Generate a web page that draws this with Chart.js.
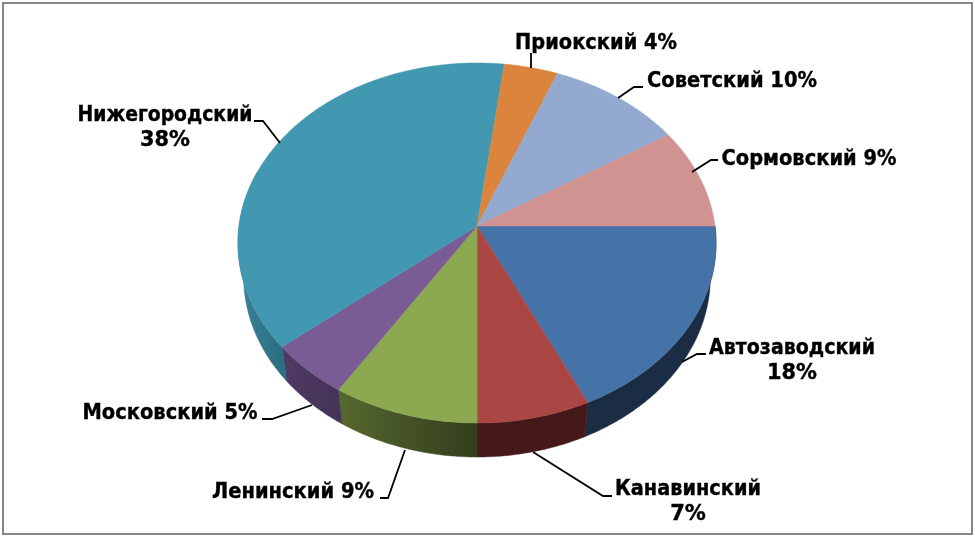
<!DOCTYPE html>
<html>
<head>
<meta charset="utf-8">
<script src="https://cdn.jsdelivr.net/npm/chart.js@4"></script>
<style>
    html, body { margin: 0; padding: 0; background: #fff; }
    canvas { display: block; }
</style>
</head>
<body>
<canvas id="pie-chart" width="975" height="537"></canvas>
<script>
const districts = ["Автозаводский", "Канавинский", "Ленинский", "Московский", "Нижегородский", "Приокский", "Советский", "Сормовский"];
const shares = [18, 7, 9, 5, 38, 4, 10, 9];

const topColors = ["#4573a7", "#aa4643", "#8ca851", "#785c93", "#4198b0", "#db843d", "#93a9cf", "#d19392"];
// wall colours, left end then right end
const wallLeft = ["#1a2d45", "#45191a", "#57682f", "#4f3a63", "#3a8298", "#000000", "#000000", "#000000"];
const wallRight = ["#1a2d45", "#45191a", "#323d1c", "#453358", "#2c6e82", "#000000", "#000000", "#000000"];

// label text anchor (centre x, first line y) and leader line for each district
const labelX = [792, 688, 293, 170, 165, 596, 732, 809];
const labelY = [349, 490, 493, 414, 116, 44, 82, 160];
const labelW = [166, 146, 162, 175, 175, 162, 170, 175];
const pctW = 50;
const leaders = [
    [[682, 362], [697, 354], [706, 354]],
    [[533, 452], [603, 496], [612, 496]],
    [[405, 450], [388, 498], [380, 498]],
    [[312, 405], [272, 419], [262, 419]],
    [[280, 143], [263, 121], [254, 121]],
    [[531, 68], [531, 53]],
    [[618, 98], [634, 87], [643, 87]],
    [[692, 172], [711, 160], [718, 160]]
];
// labels that wrap the percent onto a second line
const wrapped = [true, true, false, false, true, false, false, false];

// perspective of the tilted disc
const tilt = 0.7496;
const persp = -0.0944;
const depth = 34;
const rimShrink = 0.976;

const project = (arc, angle) => {
    const s = Math.sin(angle), w = 1 + persp * s;
    return {
        x: arc.outerRadius * Math.cos(angle) / w,
        y: arc.outerRadius * tilt * s / w
    };
};

const pie3d = {
    id: "pie3d",
    beforeDraw(chart) {
        const ctx = chart.ctx;
        ctx.save();
        ctx.strokeStyle = "#868686";
        ctx.lineWidth = 2;
        ctx.strokeRect(3, 3, 969, 531);
        ctx.restore();
    },
    beforeDatasetDraw(chart, args) {
        const ctx = chart.ctx;
        const arcs = chart.getDatasetMeta(args.index).data;
        const cx = arcs[0].x, cy = arcs[0].y;
        ctx.save();
        ctx.translate(cx, cy);

        // side walls first, only the front half of the disc shows one
        arcs.forEach((arc, i) => {
            const start = arc.startAngle, end = Math.min(arc.endAngle, Math.PI * 1.1);
            if (start >= end) return;
            const top = [], low = [];
            for (let a = start; a < end; a += 0.01) top.push(project(arc, a));
            top.push(project(arc, end));
            top.forEach(p => low.push({ x: p.x * rimShrink, y: p.y + depth }));
            const xs = top.map(p => p.x);
            const g = ctx.createLinearGradient(Math.min(...xs), 0, Math.max(...xs), 0);
            g.addColorStop(0, wallLeft[i]);
            g.addColorStop(1, wallRight[i]);
            ctx.fillStyle = g;
            ctx.strokeStyle = g;
            ctx.lineWidth = 0.5;
            ctx.beginPath();
            top.forEach((p, n) => n ? ctx.lineTo(p.x, p.y) : ctx.moveTo(p.x, p.y));
            low.reverse().forEach(p => ctx.lineTo(p.x, p.y));
            ctx.closePath();
            ctx.fill();
            ctx.stroke();
        });

        // top face
        arcs.forEach((arc, i) => {
            ctx.fillStyle = topColors[i];
            ctx.strokeStyle = topColors[i];
            ctx.lineWidth = 0.5;
            ctx.beginPath();
            ctx.moveTo(0, 0);
            for (let a = arc.startAngle; a < arc.endAngle; a += 0.01) {
                const p = project(arc, a);
                ctx.lineTo(p.x, p.y);
            }
            const last = project(arc, arc.endAngle);
            ctx.lineTo(last.x, last.y);
            ctx.closePath();
            ctx.fill();
            ctx.stroke();
        });
        ctx.restore();
        return false;
    },
    afterDraw(chart) {
        const ctx = chart.ctx;
        ctx.save();
        ctx.strokeStyle = "#000";
        ctx.lineWidth = 1.8;
        leaders.forEach(line => {
            ctx.beginPath();
            line.forEach((p, n) => n ? ctx.lineTo(p[0], p[1]) : ctx.moveTo(p[0], p[1]));
            ctx.stroke();
        });
        ctx.fillStyle = "#000";
        ctx.lineWidth = 0.4;
        ctx.font = 'bold 21px "DejaVu Sans"';
        ctx.textAlign = "center";
        ctx.textBaseline = "middle";
        const put = (text, x, y, w) => {
            ctx.fillText(text, x, y, w);
            ctx.strokeText(text, x, y, w);
        };
        districts.forEach((name, i) => {
            const pct = shares[i] + "%";
            if (wrapped[i]) {
                put(name, labelX[i], labelY[i], labelW[i]);
                put(pct, labelX[i], labelY[i] + 25, pctW);
            } else {
                put(name + " " + pct, labelX[i], labelY[i], labelW[i]);
            }
        });
        ctx.restore();
    }
};

new Chart(document.getElementById("pie-chart").getContext("2d"), {
    type: "pie",
    data: {
        labels: districts,
        datasets: [{ data: shares, backgroundColor: topColors, borderWidth: 0 }]
    },
    options: {
        responsive: false,
        animation: false,
        rotation: 90,
        radius: 238,
        layout: { padding: { right: 21, bottom: 85 } },
        plugins: { legend: { display: false }, tooltip: { enabled: false } }
    },
    plugins: [pie3d]
});
</script>
</body>
</html>
